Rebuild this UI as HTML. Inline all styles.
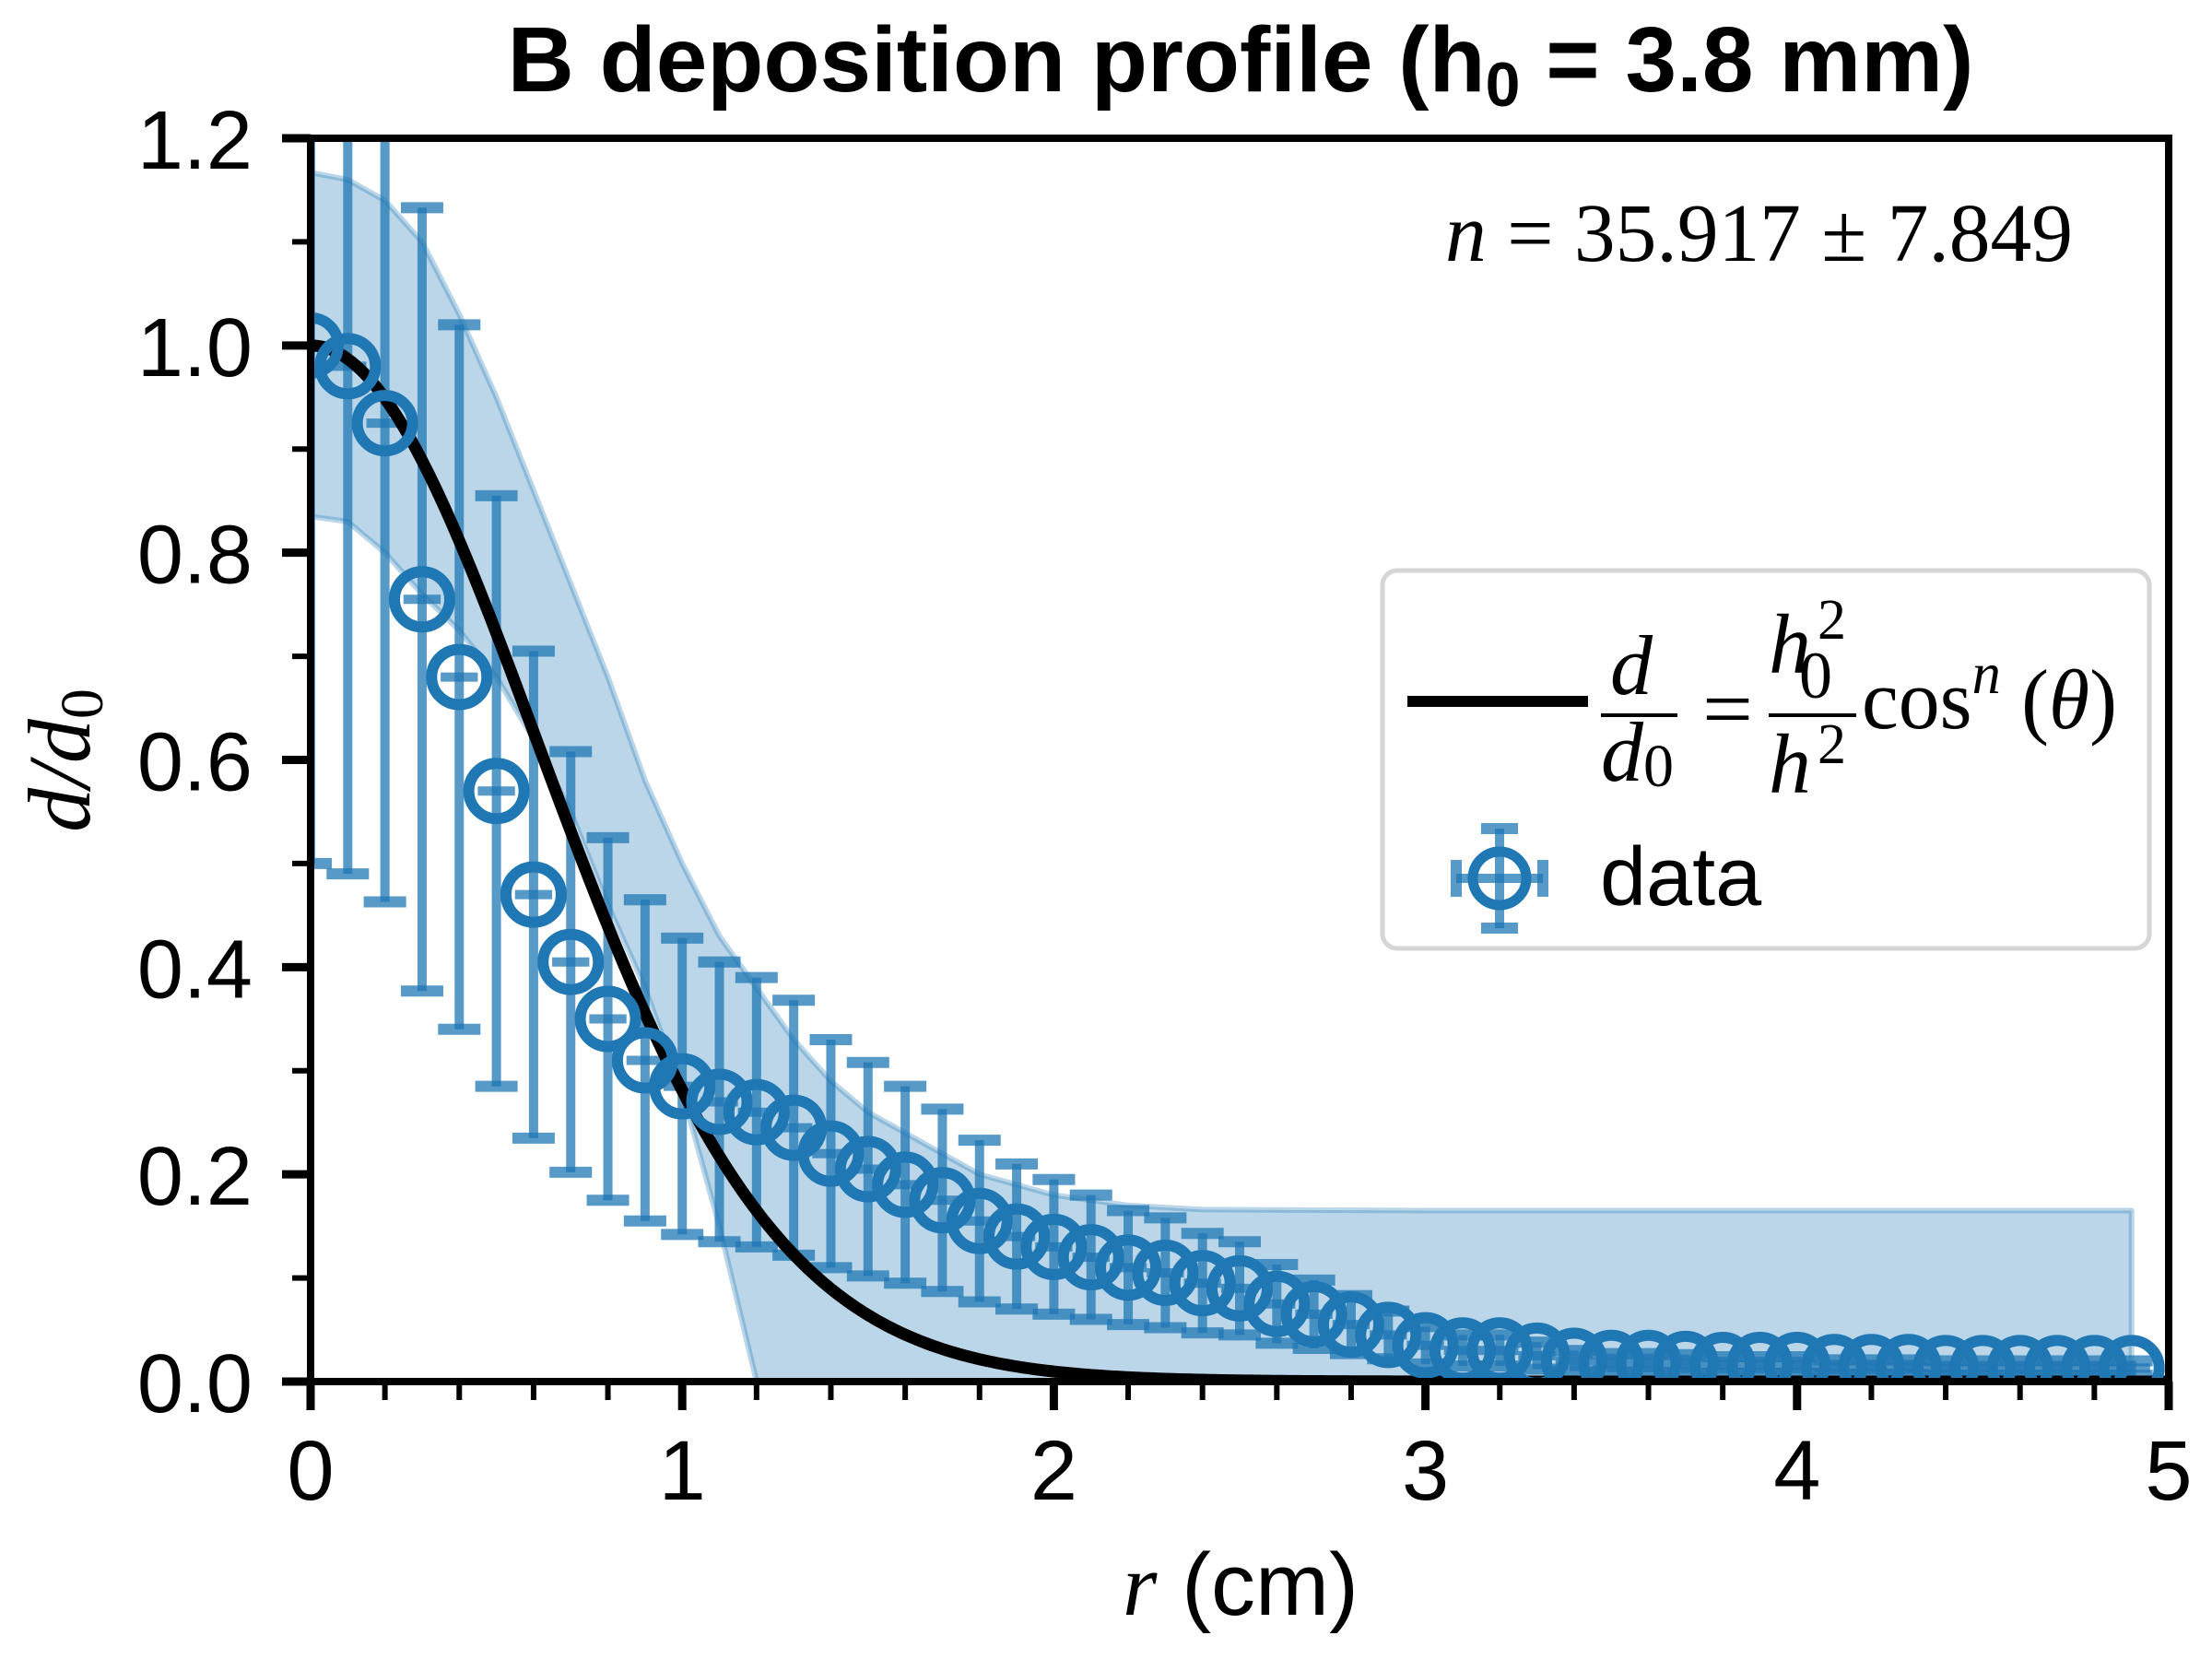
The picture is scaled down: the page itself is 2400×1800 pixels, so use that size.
<!DOCTYPE html>
<html><head><meta charset="utf-8"><style>
html,body{margin:0;padding:0;background:#fff;}
svg{display:block;}
</style></head><body>
<svg id="chart" width="2400" height="1800" viewBox="0 0 2400 1800" xmlns="http://www.w3.org/2000/svg">
<defs><clipPath id="plotclip"><rect x="337" y="150" width="2016" height="1349"/></clipPath></defs>
<g id="band" clip-path="url(#plotclip)"></g>
<g id="errs" clip-path="url(#plotclip)"></g>
<g id="fit" clip-path="url(#plotclip)"></g>
<g id="markers" clip-path="url(#plotclip)"></g>
<g id="axes"></g>
<text x="1346" y="99" text-anchor="middle" font-family="Liberation Sans, sans-serif" font-weight="bold" font-size="100">B deposition profile (h<tspan font-size="68" dy="16">0</tspan><tspan dy="-16"> = 3.8 mm)</tspan></text>
<text x="1568" y="283" textLength="681" lengthAdjust="spacingAndGlyphs" font-family="Liberation Serif, serif" font-size="90"><tspan font-style="italic">n</tspan> = 35.917 ± 7.849</text>
<text transform="translate(97,825) rotate(-90)" text-anchor="middle" font-family="Liberation Serif, serif" font-style="italic" font-size="96">d/d<tspan font-style="normal" font-size="66" dy="14">0</tspan></text>
<text x="1346" y="1752" text-anchor="middle" font-family="Liberation Sans, sans-serif" font-size="96"><tspan font-family="Liberation Serif, serif" font-style="italic">r</tspan> (cm)</text>
<g>
<rect x="1500" y="619" width="832" height="410" rx="16" fill="#fff" stroke="#d6d6d6" stroke-width="5"/>
<line x1="1527" y1="761" x2="1723" y2="761" stroke="#000" stroke-width="12"/>
<g font-family="Liberation Serif, serif" font-size="92">
<text x="1770" y="753" text-anchor="middle" font-style="italic">d</text>
<text x="1737" y="847" font-style="italic">d<tspan font-style="normal" font-size="66" dy="6">0</tspan></text>
<text x="1847" y="800" textLength="55" lengthAdjust="spacingAndGlyphs">=</text>
<text x="1919" y="730" font-style="italic">h</text>
<text x="1952" y="757" font-size="72">0</text>
<text x="1972" y="693" font-size="62">2</text>
<text x="1919" y="860" font-style="italic">h</text>
<text x="1972" y="828" font-size="62">2</text>
<line x1="1737" y1="776" x2="1820" y2="776" stroke="#000" stroke-width="4"/>
<line x1="1919" y1="776" x2="2014" y2="776" stroke="#000" stroke-width="4"/>
<text x="2020" y="790" textLength="277" lengthAdjust="spacingAndGlyphs">cos<tspan font-style="italic" font-size="64" dy="-38">n</tspan><tspan dy="38"> (</tspan><tspan font-style="italic">θ</tspan>)</text>
</g>
<g>
<line x1="1627" y1="899" x2="1627" y2="1007" stroke="#1f77b4" stroke-opacity="0.75" stroke-width="10"/>
<line x1="1607" y1="899" x2="1647" y2="899" stroke="#1f77b4" stroke-opacity="0.75" stroke-width="12"/>
<line x1="1607" y1="1007" x2="1647" y2="1007" stroke="#1f77b4" stroke-opacity="0.75" stroke-width="12"/>
<line x1="1580" y1="953" x2="1674" y2="953" stroke="#1f77b4" stroke-opacity="0.75" stroke-width="10"/>
<line x1="1580" y1="933" x2="1580" y2="973" stroke="#1f77b4" stroke-opacity="0.75" stroke-width="12"/>
<line x1="1674" y1="933" x2="1674" y2="973" stroke="#1f77b4" stroke-opacity="0.75" stroke-width="12"/>
<circle cx="1627" cy="953" r="29" fill="none" stroke="#1f77b4" stroke-width="11"/>
</g>
<text x="1736" y="982" font-family="Liberation Sans, sans-serif" font-size="90">data</text>
</g>
</svg>
<script>
const rValues = [0,0.1,0.2,0.3,0.4,0.5,0.6,0.7,0.8,0.9,1.0,1.1,1.2,1.3,1.4,1.5,1.6,1.7,1.8,1.9,2.0,2.1,2.2,2.3,2.4,2.5,2.6,2.7,2.8,2.9,3.0,3.1,3.2,3.3,3.4,3.5,3.6,3.7,3.8,3.9,4.0,4.1,4.2,4.3,4.4,4.5,4.6,4.7,4.8,4.9];
const dValues = [1.0,0.98,0.925,0.755,0.68,0.57,0.47,0.405,0.35,0.31,0.285,0.27,0.26,0.245,0.22,0.205,0.19,0.175,0.155,0.14,0.13,0.12,0.11,0.105,0.095,0.09,0.075,0.065,0.055,0.045,0.035,0.03,0.03,0.025,0.02,0.018,0.018,0.017,0.016,0.016,0.016,0.014,0.014,0.014,0.013,0.013,0.013,0.013,0.013,0.013];
const dErrors = [0.5,0.49,0.462,0.378,0.34,0.285,0.235,0.203,0.175,0.155,0.143,0.135,0.13,0.123,0.11,0.103,0.095,0.088,0.078,0.07,0.065,0.06,0.055,0.053,0.048,0.045,0.038,0.033,0.028,0.023,0.018,0.015,0.015,0.013,0.01,0.009,0.009,0.009,0.008,0.008,0.008,0.007,0.007,0.007,0.007,0.007,0.007,0.007,0.007,0.007];
const rErrors = [0.05];
const bandR = [0,0.1,0.2,0.3,0.4,0.5,0.6,0.7,0.8,0.9,1.0,1.1,1.2,1.3,1.4,1.5,1.6,1.7,1.8,1.9,2.0,2.2,2.4,3.0,4.0,4.9];
const bandUpper = [1.167,1.16,1.14,1.1,1.03,0.95,0.86,0.77,0.68,0.58,0.5,0.43,0.38,0.33,0.29,0.26,0.24,0.22,0.2,0.19,0.18,0.17,0.166,0.165,0.165,0.165];
const bandLower = [0.835,0.83,0.8,0.76,0.725,0.68,0.62,0.55,0.46,0.38,0.28,0.15,0,0,0,0,0,0,0,0,0,0,0,0,0,0];
const fitN = [35.917];
const fitH0 = [3.8];
const xTicks = [0,1,2,3,4,5];
const yTicks = [0,0.2,0.4,0.6,0.8,1.0,1.2];
const yTickLabels = ['0.0','0.2','0.4','0.6','0.8','1.0','1.2'];

const X0=337,X1=2353,Y0=1499,Y1=150;
const xs = v => X0 + (v-0)/(5-0)*(X1-X0);
const ys = v => Y0 - (v-0)/(1.2-0)*(Y0-Y1);
const NS='http://www.w3.org/2000/svg';
function mk(tag, attrs, parent){const e=document.createElementNS(NS,tag);for(const k in attrs)e.setAttribute(k,attrs[k]);parent.appendChild(e);return e;}
const C='#1f77b4';

const band=document.getElementById('band');
let d='M'+xs(bandR[0])+','+ys(bandUpper[0]);
for(let i=1;i<bandR.length;i++) d+=' L'+xs(bandR[i])+','+ys(bandUpper[i]);
for(let i=bandR.length-1;i>=0;i--) d+=' L'+xs(bandR[i])+','+ys(bandLower[i]);
d+='Z';
const bp=mk('path',{d:d,fill:C,'fill-opacity':0.3,stroke:C,'stroke-opacity':0.3,'stroke-width':6,'stroke-linejoin':'round'},band);



const errs=document.getElementById('errs');
for(let i=0;i<rValues.length;i++){
  const x=xs(rValues[i]), yt=ys(dValues[i]+dErrors[i]), yb=ys(dValues[i]-dErrors[i]), y=ys(dValues[i]);
  const g=mk('g',{stroke:C,'stroke-opacity':0.75},errs);
  
  
  mk('line',{x1:x,y1:yt,x2:x,y2:yb,'stroke-width':10},g);
  mk('line',{x1:x-23,y1:yt,x2:x+23,y2:yt,'stroke-width':12},g);
  mk('line',{x1:x-23,y1:yb,x2:x+23,y2:yb,'stroke-width':12},g);
  const xl=xs(rValues[i]-rErrors[0]), xr=xs(rValues[i]+rErrors[0]);
  mk('line',{x1:xl,y1:y,x2:xr,y2:y,'stroke-width':10},g);
}

const fit=document.getElementById('fit');
let fd='';
for(let k=0;k<=500;k++){
  const r=5*k/500;
  const ratio=fitH0[0]*fitH0[0]/(fitH0[0]*fitH0[0]+r*r);
  const v=Math.pow(ratio,1+fitN[0]/2);
  fd+=(k?' L':'M')+xs(r).toFixed(2)+','+ys(v).toFixed(2);
}
const fp=mk('path',{d:fd,fill:'none',stroke:'#000','stroke-width':13},fit);



const mg=document.getElementById('markers');
for(let i=0;i<rValues.length;i++){
  const c=mk('circle',{cx:xs(rValues[i]),cy:ys(dValues[i]),r:30,fill:'none',stroke:C,'stroke-width':12},mg);
  
  
}

const ax=document.getElementById('axes');
const frame=mk('rect',{x:X0,y:Y1,width:X1-X0,height:Y0-Y1,fill:'none',stroke:'#000','stroke-width':8},ax);


for(let k=0;k<=25;k++){
  const v=k*0.2, x=xs(v), major=(k%5===0);
  mk('line',{x1:x,y1:Y0,x2:x,y2:Y0+(major?31:20),stroke:'#000','stroke-width':major?9:6},ax);
}
xTicks.forEach(v=>{
  const t=mk('text',{x:xs(v),y:1627,'text-anchor':'middle','font-family':'Liberation Sans, sans-serif','font-size':92},ax);
  t.textContent=String(v);
  
  
});
for(let k=0;k<=12;k++){
  const v=k*0.1, y=ys(v), major=(k%2===0);
  mk('line',{x1:X0,y1:y,x2:X0-(major?31:20),y2:y,stroke:'#000','stroke-width':major?9:6},ax);
}
yTicks.forEach((v,i)=>{
  const t=mk('text',{x:274,y:ys(v)+33,'text-anchor':'end','font-family':'Liberation Sans, sans-serif','font-size':90},ax);
  t.textContent=yTickLabels[i];
  
  
});
</script>
</body></html>
